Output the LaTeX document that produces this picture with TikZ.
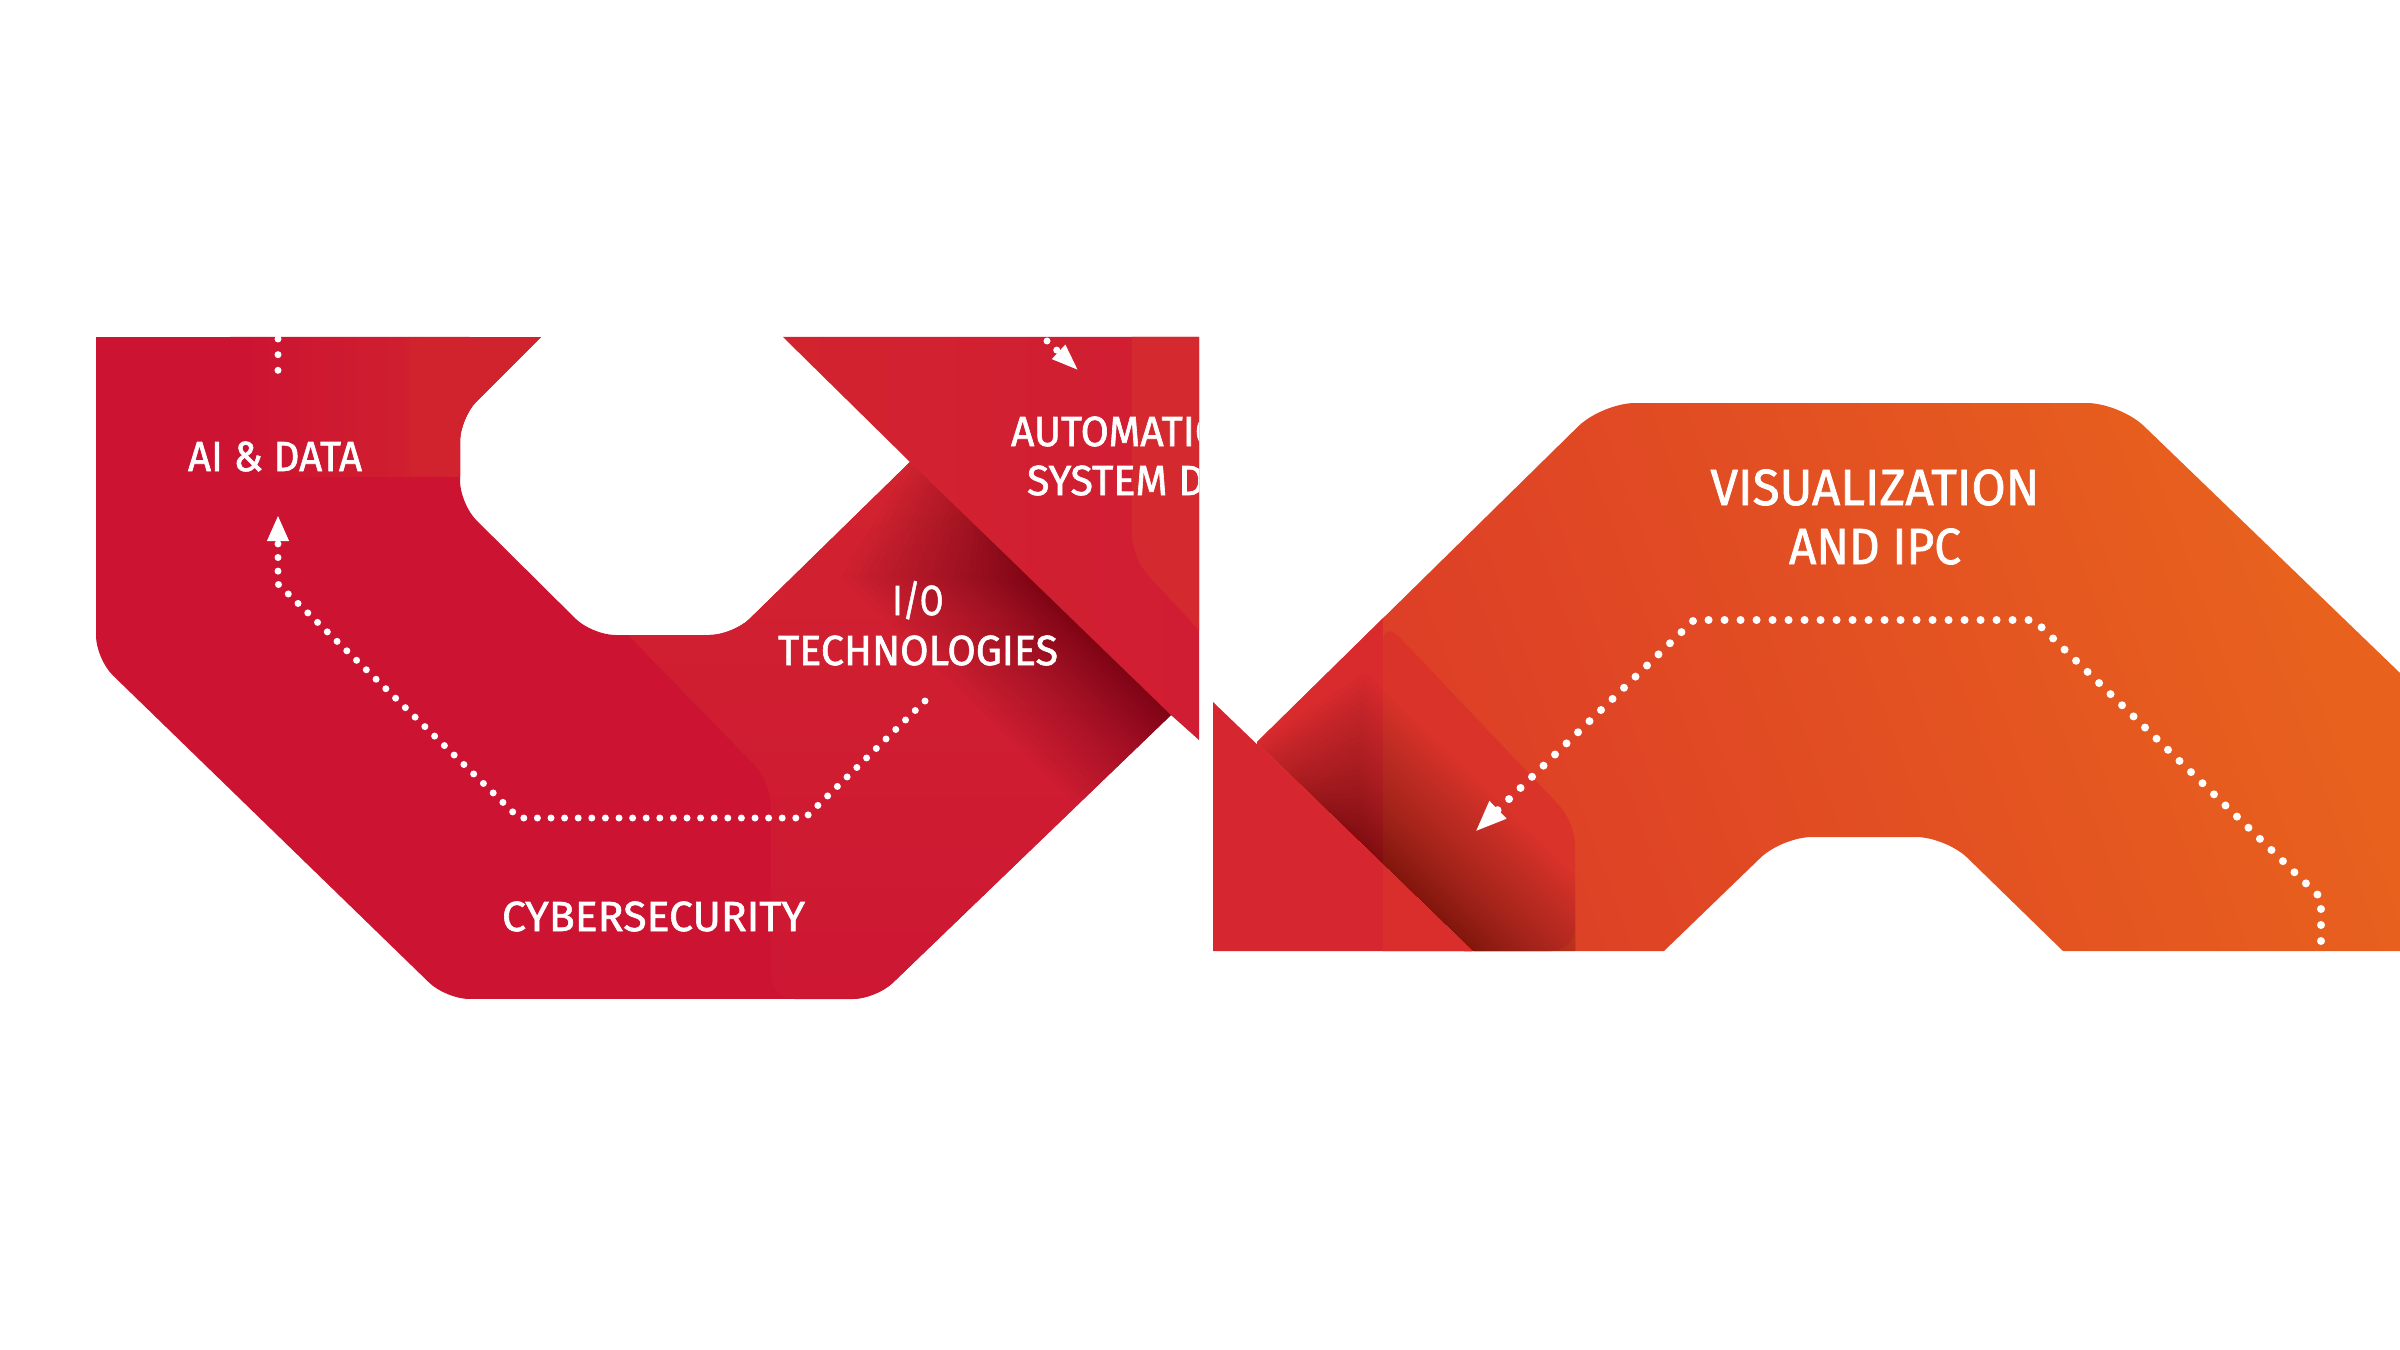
\documentclass[tikz,border=0pt]{standalone}
\usepackage{fontspec}
\usepackage{graphicx}
\usetikzlibrary{arrows.meta}
\newfontfamily\labfont[RawFeature={embolden=1.5}]{Fira Sans}
\newcommand{\fittext}[3]{\resizebox{\dimexpr#1pt*3/10\relax}{\dimexpr#2pt*3/10\relax}{\rule{0pt}{6.89pt}\smash{\labfont\fontsize{10pt}{12pt}\selectfont #3}}}
\definecolor{redbase}{HTML}{CC1332}
\definecolor{redlight}{HTML}{D2232F}
\definecolor{redlow}{HTML}{CD1733}
\definecolor{redmid}{HTML}{D11D33}
\definecolor{redpanel}{HTML}{D42A2F}
\definecolor{aipanel}{HTML}{D1232E}
\definecolor{tri}{HTML}{D6262F}
\definecolor{trilight}{HTML}{D92E2B}
\definecolor{orgL}{HTML}{DC3B28}
\definecolor{orgM}{HTML}{E14D20}
\definecolor{orgR}{HTML}{E8621D}
\definecolor{orgpanel}{HTML}{DA332A}
\definecolor{orgleft}{HTML}{D92A2E}
\definecolor{shadowcol}{HTML}{2A0508}
\tikzset{
  x=0.3pt,y=-0.3pt,
  lab/.style={inner sep=0pt,outer sep=0pt,text=white,anchor=center},
  dotsA/.style={white,line width=2.1pt,line cap=round,dash pattern=on 0pt off 4.08pt},
  dotsB/.style={white,line width=2.4pt,line cap=round,dash pattern=on 0pt off 4.8pt},
  dotsC/.style={white,line width=2.1pt,line cap=round,dash pattern=on 0pt off 4.7pt},
}
\begin{document}
\begin{tikzpicture}
\useasboundingbox (0,0) rectangle (2400,1350);
\fill[white] (0,0) rectangle (2400,1350);

% ---- left red band
\begin{scope}
\clip (96,337) -- (541,337) [rounded corners=7pt] -- (460,418) -- (460,504) -- (592,635) -- (733,635) [sharp corners] -- (910,462) -- (916,462) -- (1177,715) -- (1171,715) [rounded corners=7pt] -- (876,999) -- (446,999) -- (96,659) [sharp corners] -- cycle;
\fill[redbase] (96,337) rectangle (1199,999);
\shade[left color=redbase,right color=aipanel] (230,337) rectangle (470,476);
\fill[aipanel] (410,337) rectangle (545,476);
\shade[bottom color=redlow,top color=redlight]
  (628,635) [rounded corners=7pt] -- (771,782) -- (771,999) [sharp corners] -- (1199,999) -- (1199,462) -- (910,462) -- (745,623) -- cycle;
\begin{scope}[shift={(910,462)},rotate=-44]
\foreach \i in {1,...,30}{
  \pgfmathsetmacro{\dd}{130*pow(\i/30,1.5)}
  \pgfmathsetmacro{\ss}{170*(1-\i/30)}
  \fill[shadowcol,opacity=0.02] (\ss,0) -- (450,0) -- (450,\dd) -- (\ss+30,\dd) -- cycle;
}
\end{scope}
\end{scope}

% ---- upper right piece
\begin{scope}
\clip (783,337) -- (1199,337) -- (1199,740) -- (1171,715) -- (910,462) -- cycle;
\shade[left color=redlight,middle color=redmid,right color=redmid] (783,337) rectangle (1199,740);
\fill[redpanel] (1132,337) -- (1199,337) -- (1199,630) [rounded corners=7pt] -- (1132,558) -- (1132,337) [sharp corners] -- cycle;
\end{scope}

% ---- orange band
\begin{scope}
\clip (1250,747) -- (1257,742) [rounded corners=10pt] -- (1602,403) -- (2120,403) [sharp corners] -- (2400,673) -- (2400,951) -- (2063,951) [rounded corners=9pt] -- (1946,837) -- (1782,837) [sharp corners] -- (1664,951) -- (1464,951) -- cycle;
\shade[left color=orgL,middle color=orgM,right color=orgR,shading angle=110] (1257,403) rectangle (2400,951);
\fill[orgleft] (1257,403) rectangle (1383,951);
\fill[orgpanel] (1383,951) [rounded corners=7pt] -- (1383,620) -- (1575,822) -- (1575,951) [sharp corners] -- cycle;
\clip (1200,403) rectangle (1575,951);
\begin{scope}[shift={(1257,742)},rotate=-44]
\foreach \i in {1,...,30}{
  \pgfmathsetmacro{\dd}{125*pow(\i/30,1.4)}
  \pgfmathsetmacro{\ss}{130*(1-\i/30)}
  \fill[shadowcol,opacity=0.02] (\ss,0) -- (450,0) -- (450,-\dd) -- (\ss+30,-\dd) -- cycle;
}
\end{scope}
\end{scope}

% ---- lower left triangle
\fill[tri] (1213,702) -- (1472,951) -- (1213,951) -- cycle;
\fill[trilight] (1383,866) -- (1472,951) -- (1383,951) -- cycle;

% ---- connector anchors
\coordinate (a0) at (278,339);
\coordinate (a1) at (278,373);
\coordinate (b0) at (925,701);
\coordinate (b1) at (805,818);
\coordinate (b2) at (519,818);
\coordinate (b3) at (278,584);
\coordinate (b4) at (278,515);
\coordinate (c0) at (1047,341);
\coordinate (c1) at (1079,371);
\coordinate (d0) at (2321,941);
\coordinate (d1) at (2321,898);
\coordinate (d2) at (2034,620);
\coordinate (d3) at (1694,620);
\coordinate (d4) at (1475,832);

% ---- dotted connectors
\draw[dotsC] (a0) -- (a1);
\draw[dotsA,-{Triangle[length=7.8pt,width=6pt]}] (b0) -- (b1) -- (b2) -- (b3) -- (b4);
\draw[dotsC,dash pattern=on 0pt off 4pt,-{Triangle[length=8.4pt,width=5.2pt]}] (c0) -- (c1);
\draw[dotsB,-{Triangle[length=9.6pt,width=6.6pt]}] (d0) -- (d1) -- (d2) -- (d3) -- (d4);

% ---- labels
\node[lab] (ai) at (275,456.5) {\fittext{174}{29}{AI \& DATA}};
\node[lab] (cyber) at (653.5,916.5) {\fittext{303}{29}{CYBERSECURITY}};
\node[lab] (io) at (918,600.5) {\fittext{51}{29}{I/O}};
\node[lab] (tech) at (918,650.5) {\fittext{280}{29}{TECHNOLOGIES}};
\node[lab] (vis) at (1875,487.5) {\fittext{329}{35}{VISUALIZATION}};
\node[lab] (ipc) at (1875,546.5) {\fittext{172}{35}{AND IPC}};
\begin{scope}
\clip (783,337) rectangle (1199,740);
\node[lab] (auto) at (1117,431.5) {\fittext{212}{29}{AUTOMATIO}};
\node[lab] (sys) at (1116,480.5) {\fittext{178}{29}{SYSTEM D}};
\end{scope}
\end{tikzpicture}
\end{document}
